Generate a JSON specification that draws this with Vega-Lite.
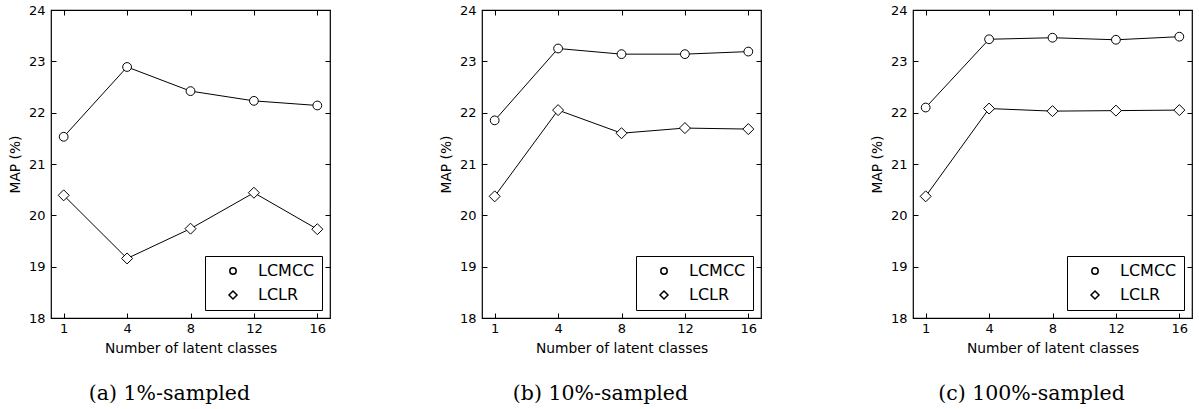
{
  "$schema": "https://vega.github.io/schema/vega-lite/v6.json",
  "padding": {"left": 7, "top": 3, "right": 4, "bottom": 2},
  "background": "white",
  "datasets": {
    "all": [
      {"panel": "a", "method": "LCMCC", "k": 1, "map": 21.53},
      {"panel": "a", "method": "LCMCC", "k": 4, "map": 22.89},
      {"panel": "a", "method": "LCMCC", "k": 8, "map": 22.42},
      {"panel": "a", "method": "LCMCC", "k": 12, "map": 22.23},
      {"panel": "a", "method": "LCMCC", "k": 16, "map": 22.14},
      {"panel": "a", "method": "LCLR", "k": 1, "map": 20.39},
      {"panel": "a", "method": "LCLR", "k": 4, "map": 19.16},
      {"panel": "a", "method": "LCLR", "k": 8, "map": 19.74},
      {"panel": "a", "method": "LCLR", "k": 12, "map": 20.44},
      {"panel": "a", "method": "LCLR", "k": 16, "map": 19.73},
      {"panel": "b", "method": "LCMCC", "k": 1, "map": 21.85},
      {"panel": "b", "method": "LCMCC", "k": 4, "map": 23.25},
      {"panel": "b", "method": "LCMCC", "k": 8, "map": 23.14},
      {"panel": "b", "method": "LCMCC", "k": 12, "map": 23.14},
      {"panel": "b", "method": "LCMCC", "k": 16, "map": 23.19},
      {"panel": "b", "method": "LCLR", "k": 1, "map": 20.37},
      {"panel": "b", "method": "LCLR", "k": 4, "map": 22.05},
      {"panel": "b", "method": "LCLR", "k": 8, "map": 21.6},
      {"panel": "b", "method": "LCLR", "k": 12, "map": 21.7},
      {"panel": "b", "method": "LCLR", "k": 16, "map": 21.68},
      {"panel": "c", "method": "LCMCC", "k": 1, "map": 22.1},
      {"panel": "c", "method": "LCMCC", "k": 4, "map": 23.43},
      {"panel": "c", "method": "LCMCC", "k": 8, "map": 23.46},
      {"panel": "c", "method": "LCMCC", "k": 12, "map": 23.42},
      {"panel": "c", "method": "LCMCC", "k": 16, "map": 23.48},
      {"panel": "c", "method": "LCLR", "k": 1, "map": 20.37},
      {"panel": "c", "method": "LCLR", "k": 4, "map": 22.08},
      {"panel": "c", "method": "LCLR", "k": 8, "map": 22.03},
      {"panel": "c", "method": "LCLR", "k": 12, "map": 22.04},
      {"panel": "c", "method": "LCLR", "k": 16, "map": 22.05}
    ]
  },
  "data": {"name": "all"},
  "spacing": 106,
  "resolve": {"scale": {"shape": "independent"}, "legend": {"shape": "independent"}},
  "hconcat": [
    {
      "title": {"text": "(a) 1%-sampled"},
      "width": 279, "height": 308,
      "transform": [{"filter": "datum.panel == 'a'"}],
      "layer": [
        {
          "mark": {"type": "line", "color": "black", "strokeWidth": 1},
          "encoding": {
            "detail": {"field": "method"},
            "x": {"field": "k", "type": "ordinal", "scale": {"type": "point", "padding": 0.2}, "axis": {"orient": "bottom", "title": "Number of latent classes", "labelAngle": 0, "labelPadding": 9}},
            "y": {"field": "map", "type": "quantitative", "scale": {"domain": [18, 24], "nice": false, "zero": false}, "axis": {"orient": "left", "title": "MAP (%)", "values": [18, 19, 20, 21, 22, 23, 24]}}
          }
        },
        {
          "mark": {"type": "point", "filled": true, "fill": "white", "stroke": "black", "strokeWidth": 1, "size": 121, "opacity": 1},
          "encoding": {
            "x": {"field": "k", "type": "ordinal", "scale": {"type": "point", "padding": 0.2}, "axis": {"orient": "top", "labels": false, "title": null}},
            "y": {"field": "map", "type": "quantitative", "scale": {"domain": [18, 24], "nice": false, "zero": false}, "axis": {"orient": "right", "labels": false, "title": null, "values": [18, 19, 20, 21, 22, 23, 24]}},
            "shape": {"field": "method", "type": "nominal",
              "scale": {"domain": ["LCMCC", "LCLR"], "range": ["M0.8,0 A0.8,0.8 0 1,1 -0.8,0 A0.8,0.8 0 1,1 0.8,0 Z", "M0,-1 L1,0 L0,1 L-1,0 Z"]},
              "legend": {"title": null, "orient": "bottom-right", "offset": 8,
                "encode": {"symbols": {"update": {"shape": {"signal": "datum.value == 'LCMCC' ? 'M-4,0 A0.92,0.92 0 1,1 -2.16,0 A0.92,0.92 0 1,1 -4,0 Z M2.16,0 A0.92,0.92 0 1,1 4,0 A0.92,0.92 0 1,1 2.16,0 Z M-2.16,0 L2.16,0' : 'M-4.12,0 L-2.95,-1.17 L-1.78,0 L-2.95,1.17 Z M1.78,0 L2.95,-1.17 L4.12,0 L2.95,1.17 Z M-1.78,0 L1.78,0'"}}}}}
            }
          }
        }
      ],
      "resolve": {"axis": {"x": "independent", "y": "independent"}}
    },
    {
      "title": {"text": "(b) 10%-sampled"},
      "width": 279, "height": 308,
      "transform": [{"filter": "datum.panel == 'b'"}],
      "layer": [
        {
          "mark": {"type": "line", "color": "black", "strokeWidth": 1},
          "encoding": {
            "detail": {"field": "method"},
            "x": {"field": "k", "type": "ordinal", "scale": {"type": "point", "padding": 0.2}, "axis": {"orient": "bottom", "title": "Number of latent classes", "labelAngle": 0, "labelPadding": 9}},
            "y": {"field": "map", "type": "quantitative", "scale": {"domain": [18, 24], "nice": false, "zero": false}, "axis": {"orient": "left", "title": "MAP (%)", "values": [18, 19, 20, 21, 22, 23, 24]}}
          }
        },
        {
          "mark": {"type": "point", "filled": true, "fill": "white", "stroke": "black", "strokeWidth": 1, "size": 121, "opacity": 1},
          "encoding": {
            "x": {"field": "k", "type": "ordinal", "scale": {"type": "point", "padding": 0.2}, "axis": {"orient": "top", "labels": false, "title": null}},
            "y": {"field": "map", "type": "quantitative", "scale": {"domain": [18, 24], "nice": false, "zero": false}, "axis": {"orient": "right", "labels": false, "title": null, "values": [18, 19, 20, 21, 22, 23, 24]}},
            "shape": {"field": "method", "type": "nominal",
              "scale": {"domain": ["LCMCC", "LCLR"], "range": ["M0.8,0 A0.8,0.8 0 1,1 -0.8,0 A0.8,0.8 0 1,1 0.8,0 Z", "M0,-1 L1,0 L0,1 L-1,0 Z"]},
              "legend": {"title": null, "orient": "bottom-right", "offset": 8,
                "encode": {"symbols": {"update": {"shape": {"signal": "datum.value == 'LCMCC' ? 'M-4,0 A0.92,0.92 0 1,1 -2.16,0 A0.92,0.92 0 1,1 -4,0 Z M2.16,0 A0.92,0.92 0 1,1 4,0 A0.92,0.92 0 1,1 2.16,0 Z M-2.16,0 L2.16,0' : 'M-4.12,0 L-2.95,-1.17 L-1.78,0 L-2.95,1.17 Z M1.78,0 L2.95,-1.17 L4.12,0 L2.95,1.17 Z M-1.78,0 L1.78,0'"}}}}}
            }
          }
        }
      ],
      "resolve": {"axis": {"x": "independent", "y": "independent"}}
    },
    {
      "title": {"text": "(c) 100%-sampled"},
      "width": 279, "height": 308,
      "transform": [{"filter": "datum.panel == 'c'"}],
      "layer": [
        {
          "mark": {"type": "line", "color": "black", "strokeWidth": 1},
          "encoding": {
            "detail": {"field": "method"},
            "x": {"field": "k", "type": "ordinal", "scale": {"type": "point", "padding": 0.2}, "axis": {"orient": "bottom", "title": "Number of latent classes", "labelAngle": 0, "labelPadding": 9}},
            "y": {"field": "map", "type": "quantitative", "scale": {"domain": [18, 24], "nice": false, "zero": false}, "axis": {"orient": "left", "title": "MAP (%)", "values": [18, 19, 20, 21, 22, 23, 24]}}
          }
        },
        {
          "mark": {"type": "point", "filled": true, "fill": "white", "stroke": "black", "strokeWidth": 1, "size": 121, "opacity": 1},
          "encoding": {
            "x": {"field": "k", "type": "ordinal", "scale": {"type": "point", "padding": 0.2}, "axis": {"orient": "top", "labels": false, "title": null}},
            "y": {"field": "map", "type": "quantitative", "scale": {"domain": [18, 24], "nice": false, "zero": false}, "axis": {"orient": "right", "labels": false, "title": null, "values": [18, 19, 20, 21, 22, 23, 24]}},
            "shape": {"field": "method", "type": "nominal",
              "scale": {"domain": ["LCMCC", "LCLR"], "range": ["M0.8,0 A0.8,0.8 0 1,1 -0.8,0 A0.8,0.8 0 1,1 0.8,0 Z", "M0,-1 L1,0 L0,1 L-1,0 Z"]},
              "legend": {"title": null, "orient": "bottom-right", "offset": 8,
                "encode": {"symbols": {"update": {"shape": {"signal": "datum.value == 'LCMCC' ? 'M-4,0 A0.92,0.92 0 1,1 -2.16,0 A0.92,0.92 0 1,1 -4,0 Z M2.16,0 A0.92,0.92 0 1,1 4,0 A0.92,0.92 0 1,1 2.16,0 Z M-2.16,0 L2.16,0' : 'M-4.12,0 L-2.95,-1.17 L-1.78,0 L-2.95,1.17 Z M1.78,0 L2.95,-1.17 L4.12,0 L2.95,1.17 Z M-1.78,0 L1.78,0'"}}}}}
            }
          }
        }
      ],
      "resolve": {"axis": {"x": "independent", "y": "independent"}}
    }
  ],
  "config": {
    "font": "DejaVu Sans",
    "view": {"stroke": "black", "strokeWidth": 1.2},
    "axis": {
      "domain": false, "grid": false,
      "tickColor": "black", "tickSize": -5, "tickWidth": 1,
      "labelFont": "DejaVu Sans", "labelFontSize": 13, "labelColor": "black", "labelPadding": 11,
      "titleFont": "DejaVu Sans", "titleFontSize": 13.8, "titleFontWeight": "normal", "titleColor": "black", "titlePadding": 6
    },
    "legend": {
      "strokeColor": "black", "fillColor": "white", "padding": 7, "cornerRadius": 0, "strokeWidth": 1,
      "labelFont": "DejaVu Sans", "labelFontSize": 16, "labelColor": "black",
      "symbolSize": 64, "symbolOffset": 13, "labelOffset": 17, "rowPadding": 8
    },
    "title": {"orient": "bottom", "anchor": "middle", "frame": "bounds", "font": "DejaVu Serif", "fontSize": 20.5, "fontWeight": "normal", "color": "black", "offset": 29}
  }
}
